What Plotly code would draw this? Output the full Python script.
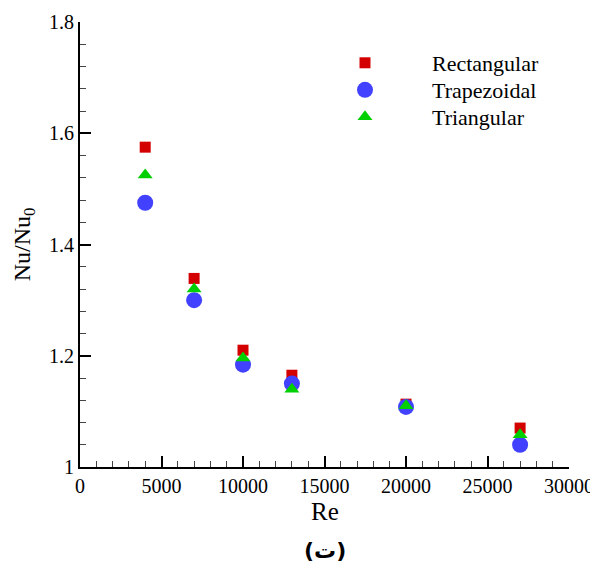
import plotly.graph_objects as go

re_vals = [4000, 7000, 10000, 13000, 20000, 27000]
rect = [1.575, 1.339, 1.210, 1.165, 1.113, 1.070]
trap = [1.475, 1.300, 1.184, 1.150, 1.108, 1.040]
tri = [1.525, 1.320, 1.196, 1.140, 1.110, 1.058]

x_ticks = [0, 5000, 10000, 15000, 20000, 25000, 30000]
y_ticks = [1.0, 1.2, 1.4, 1.6, 1.8]
y_tick_text = ["1", "1.2", "1.4", "1.6", "1.8"]

font_serif = "Liberation Serif, Times New Roman, serif"

fig = go.Figure()
fig.add_trace(go.Scatter(x=re_vals, y=rect, mode="markers", name="Rectangular", legend="legend",
                         marker=dict(symbol="square", size=11, color="#d40000")))
fig.add_trace(go.Scatter(x=re_vals, y=trap, mode="markers", name="Trapezoidal", legend="legend2",
                         marker=dict(symbol="circle", size=16, color="#4141ff")))
fig.add_trace(go.Scatter(x=re_vals, y=tri, mode="markers", name="Triangular", legend="legend3",
                         marker=dict(symbol="triangle-up", size=13, color="#00d000")))

def leg(yc):
    return dict(x=0.4458, y=yc, xanchor="left", yanchor="middle",
                bgcolor="rgba(0,0,0,0)", font=dict(size=22, family=font_serif),
                itemwidth=124, tracegroupgap=0)

fig.update_layout(
    width=590, height=554,
    margin=dict(l=72, r=29, t=14, b=95, autoexpand=False),
    plot_bgcolor="white", paper_bgcolor="white",
    font=dict(family=font_serif, size=20, color="black"),
    showlegend=True,
    legend=leg(0.9079), legend2=leg(0.8472), legend3=leg(0.7865),
    xaxis=dict(range=[0, 30000], tickvals=x_ticks, ticktext=[str(v) for v in x_ticks],
               ticks="inside", ticklen=11, tickwidth=2, tickcolor="black",
               showline=True, linewidth=2, linecolor="black", showgrid=False, zeroline=False,
               minor=dict(dtick=1000, ticks="inside", ticklen=6, tickwidth=1, tickcolor="#444"),
               tickfont=dict(size=20)),
    yaxis=dict(range=[1.0, 1.8], tickvals=y_ticks, ticktext=y_tick_text,
               ticks="inside", ticklen=11, tickwidth=2, tickcolor="black",
               showline=True, linewidth=2, linecolor="black", showgrid=False, zeroline=False,
               minor=dict(dtick=0.04, ticks="inside", ticklen=6, tickwidth=1, tickcolor="#444"),
               title=dict(text="Nu/Nu<sub>0</sub>", font=dict(size=24), standoff=12),
               tickfont=dict(size=20)),
    annotations=[
        dict(text="Re", x=0.5, y=-0.101, xref="paper", yref="paper",
             xanchor="center", yanchor="middle", showarrow=False,
             font=dict(family=font_serif, size=25, color="black")),
        dict(text="<b>(ت)</b>", x=0.5, y=-0.188, xref="paper", yref="paper",
             xanchor="center", yanchor="middle", showarrow=False,
             font=dict(family="DejaVu Sans, Noto Sans, sans-serif", size=22, color="black"))],
)
fig.write_html("out.html")
